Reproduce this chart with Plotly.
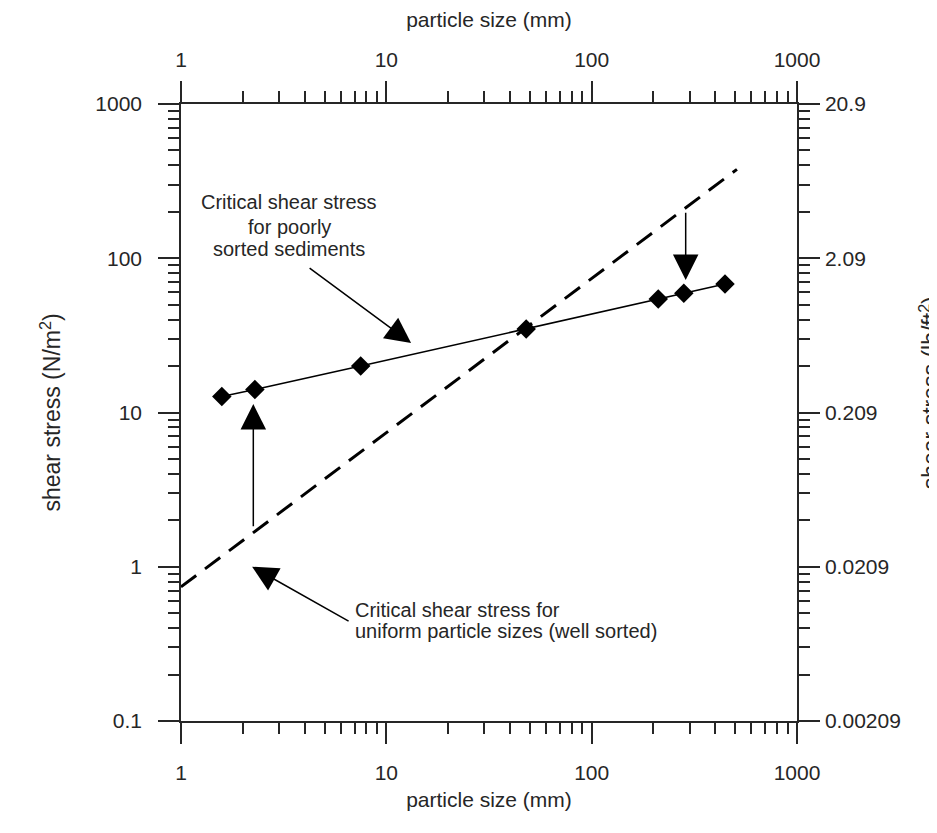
import numpy as np
import plotly.graph_objects as go

# ---- data ----
poor_x = [1.58, 2.29, 7.5, 48, 211, 281, 446]          # particle size (mm)
poor_y = [12.7, 14.1, 20.0, 34.8, 54.4, 59.2, 68.1]     # shear stress (N/m2)
uniform_x = [1, 510]
uniform_y = [0.74, 377]

x_ticks = [1, 10, 100, 1000]
x_ticktext = ["1", "10", "100", "1000"]
y_ticks = [0.1, 1, 10, 100, 1000]
y_ticktext = ["0.1", "1", "10", "100", "1000"]
y2_ticktext = ["0.00209", "0.0209", "0.209", "2.09", "20.9"]

# arrows: (tail_x, tail_y, head_x, head_y)
arrows = [
    (4.16, 87.8, 13.2, 28.2),
    (2.25, 1.79, 2.25, 11.35),
    (287, 202, 287, 72.3),
    (6.66, 0.438, 2.22, 1.0),
]
label_poor = [("Critical shear stress", 3.36, 231.5), ("for poorly", 3.36, 159.4),
              ("sorted sediments", 3.36, 114.8)]
label_uniform = [("Critical shear stress for", 6.88, 0.524),
                 ("uniform particle sizes (well sorted)", 6.88, 0.383)]

minor_x = [k * 10 ** e for e in range(0, 3) for k in range(2, 10)]
minor_y = [k * 10 ** e for e in range(-1, 3) for k in range(2, 10)]

FONT = "Liberation Sans, Arial, sans-serif"
INK = "#262626"
LW = 1.5

fig = go.Figure()
fig.add_trace(go.Scatter(x=uniform_x, y=uniform_y, mode="lines",
                         line=dict(color="black", width=3, dash="19px,11px"),
                         showlegend=False, hoverinfo="skip"))
fig.add_trace(go.Scatter(x=poor_x, y=poor_y, mode="lines+markers",
                         line=dict(color="black", width=1.5),
                         marker=dict(symbol="diamond", size=15, color="black"),
                         showlegend=False))
# invisible trace to activate top / right axes
fig.add_trace(go.Scatter(x=[1, 1000], y=[0.1, 1000], xaxis="x2", yaxis="y2",
                         mode="markers", marker=dict(opacity=0), showlegend=False,
                         hoverinfo="skip"))

def xax(**kw):
    d = dict(type="log", range=[0, 3], showline=True, linecolor=INK, linewidth=LW,
             ticks="outside", ticklen=21, tickwidth=LW, tickcolor=INK,
             tickvals=x_ticks, ticktext=x_ticktext, showgrid=False, zeroline=False,
             automargin=False,
             tickfont=dict(family=FONT, size=21, color=INK),
             minor=dict(ticks="outside", ticklen=11, tickwidth=LW, tickcolor=INK,
                        tickvals=minor_x, showgrid=False))
    d.update(kw)
    return d

def yax(**kw):
    d = dict(type="log", range=[-1, 3], showline=True, linecolor=INK, linewidth=LW,
             ticks="outside", ticklen=21, tickwidth=LW, tickcolor=INK,
             tickvals=y_ticks, showgrid=False, zeroline=False,
             automargin=False,
             tickfont=dict(family=FONT, size=21, color=INK),
             minor=dict(ticks="outside", ticklen=11, tickwidth=LW, tickcolor=INK,
                        tickvals=minor_y, showgrid=False))
    d.update(kw)
    return d

fig.update_layout(
    width=929, height=825,
    margin=dict(l=173, r=140, t=96, b=112),
    paper_bgcolor="white", plot_bgcolor="white",
    xaxis=xax(side="bottom", anchor="y", ticklabelstandoff=11,
              title=dict(text="particle size (mm)", standoff=9,
                         font=dict(family=FONT, size=21, color=INK))),
    xaxis2=xax(side="top", overlaying="x", anchor="y", ticklabelstandoff=6,
               title=dict(text="particle size (mm)", standoff=17,
                          font=dict(family=FONT, size=21, color=INK))),
    yaxis=yax(side="left", anchor="x", ticktext=y_ticktext, ticklabelstandoff=12,
              title=dict(text="shear stress (N/m<sup>2</sup>)", standoff=28,
                         font=dict(family=FONT, size=23, color=INK))),
    yaxis2=yax(side="right", overlaying="y", anchor="x", ticktext=y2_ticktext,
               ticklabelstandoff=1),
    showlegend=False,
)

for tx, ty, hx, hy in arrows:
    fig.add_annotation(x=np.log10(hx), y=np.log10(hy), ax=np.log10(tx), ay=np.log10(ty),
                       xref="x", yref="y", axref="x", ayref="y", text="",
                       showarrow=True, arrowhead=2, arrowsize=3.4, arrowwidth=1.5,
                       arrowcolor="black", standoff=0)

for txt, x, y in label_poor:
    fig.add_annotation(x=np.log10(x), y=np.log10(y), xref="x", yref="y", text=txt,
                       showarrow=False, xanchor="center", yanchor="middle",
                       font=dict(family=FONT, size=20, color=INK))
for txt, x, y in label_uniform:
    fig.add_annotation(x=np.log10(x), y=np.log10(y), xref="x", yref="y", text=txt,
                       showarrow=False, xanchor="left", yanchor="middle",
                       font=dict(family=FONT, size=20, color=INK))

# right axis title (partly cut off at the page edge, as in the original)
fig.add_annotation(x=1.1875, y=0.532, xref="paper", yref="paper",
                   text="shear stress (lb/ft<sup>2</sup>)", textangle=-90,
                   showarrow=False, xanchor="left", yanchor="middle",
                   font=dict(family=FONT, size=23, color=INK))

fig.write_html("out.html")
